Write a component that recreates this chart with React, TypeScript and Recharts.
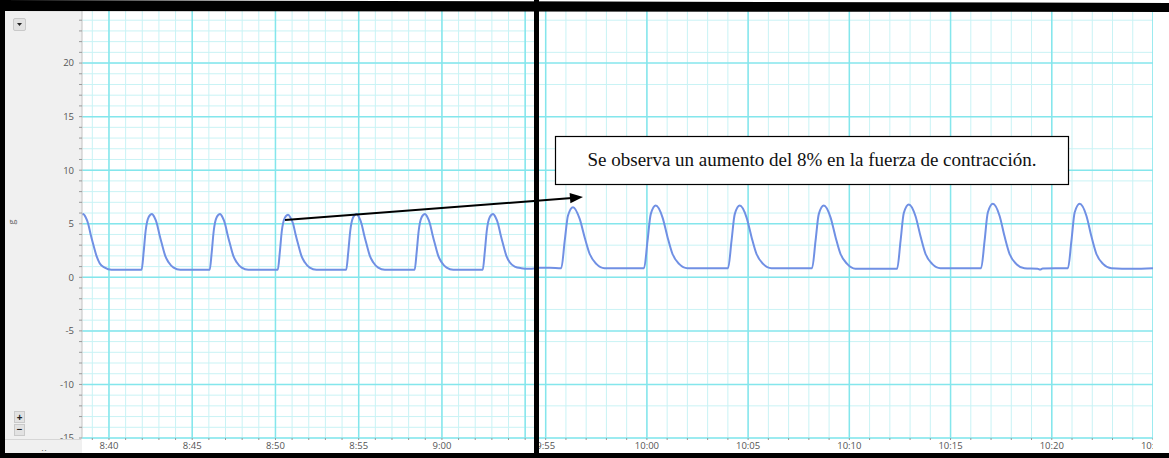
import React from "react";
import { LineChart, Line, XAxis, YAxis, CartesianGrid } from "recharts";

// ---- data (minutes since 8:00, force in g) ----
const leftTrace: [number, number][] = [
  [38.38, 5.85], [38.45, 5.9], [38.6, 5.6], [38.75, 5.0], [38.9, 4.0], [39.05, 3.1], [39.25, 2.0], [39.45, 1.3], [39.75, 0.9], [40.15, 0.7],
  [41.96, 0.7], [42.08, 2.3], [42.2, 4.3], [42.38, 5.6], [42.58, 5.9], [42.73, 5.6], [42.88, 5.0], [43.03, 4.0], [43.18, 3.1], [43.38, 2.0], [43.58, 1.4], [43.88, 0.9], [44.28, 0.7],
  [46.05, 0.7], [46.17, 2.3], [46.29, 4.3], [46.47, 5.6], [46.67, 5.9], [46.82, 5.6], [46.97, 5.0], [47.12, 4.0], [47.27, 3.1], [47.47, 2.0], [47.67, 1.4], [47.97, 0.9], [48.37, 0.7],
  [50.14, 0.7], [50.26, 2.3], [50.38, 4.3], [50.56, 5.55], [50.76, 5.85], [50.91, 5.55], [51.06, 5.0], [51.21, 4.0], [51.36, 3.1], [51.56, 2.0], [51.76, 1.4], [52.06, 0.9], [52.46, 0.7],
  [54.25, 0.7], [54.37, 2.3], [54.49, 4.3], [54.67, 5.6], [54.87, 5.9], [55.02, 5.6], [55.17, 5.0], [55.32, 4.0], [55.47, 3.1], [55.67, 2.0], [55.87, 1.4], [56.17, 0.9], [56.57, 0.7],
  [58.36, 0.7], [58.48, 2.3], [58.6, 4.3], [58.78, 5.6], [58.98, 5.9], [59.13, 5.6], [59.28, 5.0], [59.43, 4.0], [59.58, 3.1], [59.78, 2.0], [59.98, 1.4], [60.28, 0.9], [60.68, 0.7],
  [62.45, 0.7], [62.57, 2.3], [62.69, 4.3], [62.87, 5.6], [63.07, 5.9], [63.22, 5.6], [63.37, 5.0], [63.52, 4.0], [63.67, 3.1], [63.87, 2.0], [64.07, 1.4], [64.37, 1.0], [64.77, 0.85], [65.2, 0.8], [65.65, 0.85],
];

const rightTrace: [number, number][] = [
  [114.67, 0.9], [115.2, 0.9], [115.77, 0.85], [115.94, 3.4], [116.1, 5.75], [116.35, 6.55], [116.68, 5.45], [116.93, 3.7], [117.17, 2.2], [117.5, 1.25], [117.91, 0.85],
  [119.86, 0.85], [120.03, 3.4], [120.19, 5.9], [120.44, 6.7], [120.77, 5.6], [121.02, 3.75], [121.26, 2.2], [121.59, 1.25], [122.0, 0.85],
  [124.01, 0.85], [124.18, 3.4], [124.34, 5.9], [124.59, 6.7], [124.92, 5.6], [125.17, 3.75], [125.41, 2.2], [125.74, 1.25], [126.15, 0.85],
  [128.16, 0.85], [128.33, 3.4], [128.49, 5.9], [128.74, 6.7], [129.07, 5.6], [129.32, 3.75], [129.56, 2.2], [129.89, 1.25], [130.3, 0.8],
  [132.36, 0.8], [132.53, 3.4], [132.69, 6.0], [132.94, 6.8], [133.27, 5.7], [133.52, 3.8], [133.76, 2.2], [134.09, 1.25], [134.5, 0.85],
  [136.51, 0.85], [136.68, 3.4], [136.84, 6.05], [137.09, 6.87], [137.42, 5.75], [137.67, 3.8], [137.91, 2.2], [138.24, 1.25], [138.65, 0.85],
  [139.3, 0.8], [139.42, 0.72], [139.55, 0.82],
  [140.8, 0.85], [140.97, 3.4], [141.13, 6.05], [141.38, 6.87], [141.71, 5.75], [141.96, 3.8], [142.2, 2.2], [142.53, 1.25], [142.94, 0.85], [144.0, 0.8], [145.0, 0.85],
];

// ---- axes ----
const leftDomain: [number, number] = [38.38, 65.65];
const rightDomain: [number, number] = [114.67, 145];
const yDomain: [number, number] = [-15, 24.86];

const leftMinuteTicks = [39, 40, 41, 42, 43, 44, 45, 46, 47, 48, 49, 50, 51, 52, 53, 54, 55, 56, 57, 58, 59, 60, 61, 62, 63, 64, 65];
const leftMajorMinutes = [40, 45, 50, 55, 60, 65];
const leftLabelValues = [40, 45, 50, 55, 60];
const leftLabels = ["8:40", "8:45", "8:50", "8:55", "9:00"];

const rightMinuteTicks = [115, 116, 117, 118, 119, 120, 121, 122, 123, 124, 125, 126, 127, 128, 129, 130, 131, 132, 133, 134, 135, 136, 137, 138, 139, 140, 141, 142, 143, 144, 145];
const rightMajorMinutes = [115, 120, 125, 130, 135, 140, 145];
const rightLabelValues = [115, 120, 125, 130, 135, 140, 145];
const rightLabels = ["9:55", "10:00", "10:05", "10:10", "10:15", "10:20", "10:25"];

const yMinorTicks = [-15, -14, -13, -12, -11, -10, -9, -8, -7, -6, -5, -4, -3, -2, -1, 0, 1, 2, 3, 4, 5, 6, 7, 8, 9, 10, 11, 12, 13, 14, 15, 16, 17, 18, 19, 20, 21, 22, 23, 24];
const yMajorValues = [-15, -10, -5, 0, 5, 10, 15, 20];
const yLabels = ["-15", "-10", "-5", "0", "5", "10", "15", "20"];

const annotationText = "Se observa un aumento del 8% en la fuerza de contracción.";
const unitLabel = "g";

// ---- styles ----
const MINOR = "#c9f3f5";
const MAJOR = "#84e6ec";
const TRACE = "#7090e4";
const LABEL = "#555";
const AXFONT = "'Open Sans', 'DejaVu Sans', sans-serif";

const fmtFrom = (values: number[], labels: string[]) => (v: number) => {
  const i = values.indexOf(v);
  return i >= 0 ? labels[i] : "";
};
const fmtLeft = fmtFrom(leftLabelValues, leftLabels);
const fmtRight = fmtFrom(rightLabelValues, rightLabels);
const fmtY = fmtFrom(yMajorValues, yLabels);

const leftData = leftTrace.map(([t, v]) => ({ t, v }));
const rightData = rightTrace.map(([t, v]) => ({ t, v }));

const tickStyle = { fontSize: 9.5, fill: LABEL, fontFamily: AXFONT };

export default function App() {
  return (
    <div style={{ position: "absolute", left: 0, top: 0, width: 1169, height: 458, background: "#fff", overflow: "hidden" }}>
      {/* gray y-axis panel */}
      <div style={{ position: "absolute", left: 5, top: 11, width: 77, height: 442, background: "#f0f0f0" }} />

      {/* left chart */}
      <div style={{ position: "absolute", left: 5, top: 11, width: 531, height: 442, overflow: "hidden" }}>
        <LineChart width={531} height={442} data={leftData} margin={{ top: 0, right: 0, bottom: 0, left: 0 }}>
          <CartesianGrid stroke={MINOR} strokeWidth={1} verticalValues={leftMinuteTicks} horizontalValues={yMinorTicks} />
          <CartesianGrid stroke={MAJOR} strokeWidth={1.5} verticalValues={leftMajorMinutes} horizontalValues={yMajorValues} />
          <XAxis
            type="number"
            dataKey="t"
            domain={leftDomain}
            allowDataOverflow
            ticks={leftMinuteTicks}
            interval={0}
            height={15}
            tickSize={2}
            tickMargin={2}
            axisLine={false}
            tickLine={{ stroke: "#9a9a9a" }}
            tick={tickStyle}
            tickFormatter={fmtLeft}
          />
          <YAxis
            type="number"
            domain={yDomain}
            allowDataOverflow
            ticks={yMinorTicks}
            interval={0}
            width={77}
            tickSize={3}
            tickMargin={5}
            axisLine={{ stroke: "#c4c4c4" }}
            tickLine={{ stroke: "#9a9a9a" }}
            tick={tickStyle}
            tickFormatter={fmtY}
          />
          <Line type="monotone" dataKey="v" stroke={TRACE} strokeWidth={2} dot={false} isAnimationActive={false} />
        </LineChart>
      </div>

      {/* right chart */}
      <div style={{ position: "absolute", left: 539, top: 11, width: 614, height: 442, overflow: "hidden" }}>
        <LineChart width={614} height={442} data={rightData} margin={{ top: 0, right: 0, bottom: 0, left: 0 }}>
          <CartesianGrid stroke={MINOR} strokeWidth={1} verticalValues={rightMinuteTicks} horizontalValues={yMinorTicks} />
          <CartesianGrid stroke={MAJOR} strokeWidth={1.5} verticalValues={rightMajorMinutes} horizontalValues={yMajorValues} />
          <XAxis
            type="number"
            dataKey="t"
            domain={rightDomain}
            allowDataOverflow
            ticks={rightMinuteTicks}
            interval={0}
            height={15}
            tickSize={2}
            tickMargin={2}
            axisLine={false}
            tickLine={{ stroke: "#9a9a9a" }}
            tick={tickStyle}
            tickFormatter={fmtRight}
          />
          <YAxis type="number" domain={yDomain} allowDataOverflow hide />
          <Line type="monotone" dataKey="v" stroke={TRACE} strokeWidth={2} dot={false} isAnimationActive={false} />
        </LineChart>
      </div>

      {/* bottom-left corner of axis panel */}
      <div style={{ position: "absolute", left: 5, top: 439, width: 76, height: 14, background: "#f0f0f0", borderTop: "1px solid #d6d6d6" }} />
      <div style={{ position: "absolute", left: 41, top: 443, fontSize: 9, color: "#666", fontFamily: AXFONT, lineHeight: "9px" }}>‥</div>

      {/* axis panel buttons */}
      <div style={{ position: "absolute", left: 13, top: 18, width: 11, height: 11, background: "#e2e2e2", border: "1px solid #c9c9c9", borderRadius: 2 }}>
        <svg width={11} height={11} style={{ position: "absolute", left: 0, top: 0 }}>
          <polygon points="3,4 8,4 5.5,7" fill="#222" />
        </svg>
      </div>
      <div style={{ position: "absolute", left: 14, top: 411, width: 9, height: 10, background: "#e2e2e2", border: "1px solid #c9c9c9", fontSize: 10, lineHeight: "10px", textAlign: "center", fontFamily: AXFONT, fontWeight: 700, color: "#222" }}>+</div>
      <div style={{ position: "absolute", left: 14, top: 424, width: 9, height: 10, background: "#e2e2e2", border: "1px solid #c9c9c9", fontSize: 10, lineHeight: "9px", textAlign: "center", fontFamily: AXFONT, fontWeight: 700, color: "#222" }}>−</div>

      {/* unit label */}
      <div style={{ position: "absolute", left: 7, top: 215, width: 10, height: 14, fontSize: 9, color: "#666", fontFamily: AXFONT, transform: "rotate(-90deg)", lineHeight: "14px", textAlign: "center" }}>{unitLabel}</div>

      {/* frame overlays */}
      <svg width={1169} height={458} style={{ position: "absolute", left: 0, top: 0, pointerEvents: "none" }}>
        <polygon points="0,0 1169,3 1169,12 0,11" fill="#000" />
        <rect x={0} y={0} width={5} height={458} fill="#000" />
        <rect x={0} y={453} width={1169} height={5} fill="#000" />
        <rect x={534} y={0} width={5} height={458} fill="#000" />

        {/* annotation */}
        <rect x={555.5} y={136.5} width={513} height={48} fill="#fff" stroke="#000" strokeWidth={1.2} />
        <text x={812} y={165.5} textAnchor="middle" fontSize={19} fontFamily="'Liberation Serif', 'Times New Roman', serif" fill="#111">
          {annotationText}
        </text>
        <line x1={285} y1={220} x2={572} y2={198} stroke="#000" strokeWidth={2} />
        <polygon points="583,197 570.4,203.2 569.6,193" fill="#000" />
      </svg>
    </div>
  );
}
